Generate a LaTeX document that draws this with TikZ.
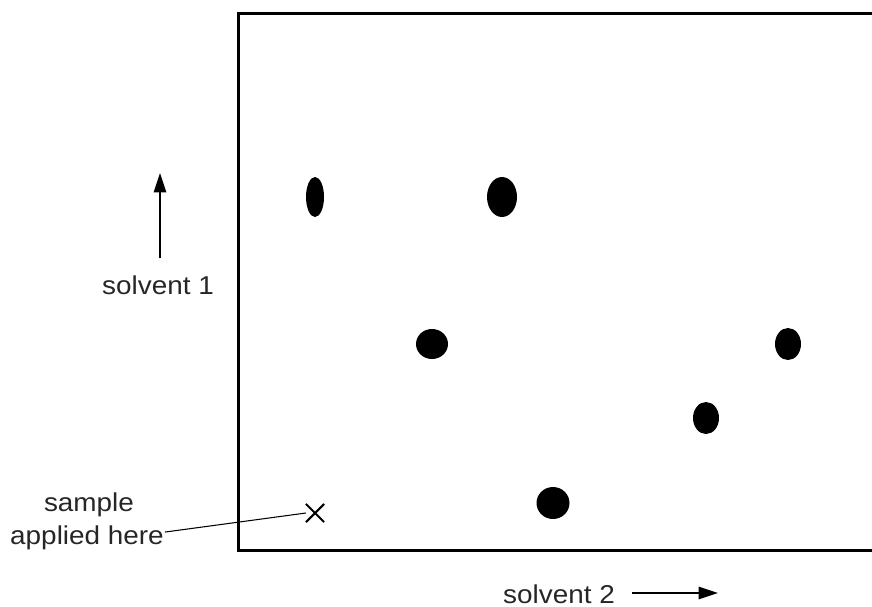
\documentclass[tikz,border=0pt]{standalone}
\usepackage{fontspec}
\setmainfont{Liberation Sans}[FakeStretch=1.08]
\usetikzlibrary{positioning,arrows.meta,shapes.geometric,shapes.misc}
\tikzset{
  lbl/.style={font=\fontsize{14.7}{19}\selectfont,inner sep=0.5pt,
    align=center,text=black!85},
  spot/.style={ellipse,fill=black,inner sep=0pt},
  frame/.style={line width=1.7pt,color=black},
  arr/.style={-{Triangle[length=11pt,width=7pt]},line width=1.1pt},
  leader/.style={line width=0.6pt},
  xmark/.style={cross out,draw,line width=1.2pt,inner sep=0pt,
    minimum size=0.32cm},
}

\begin{document}
\begin{tikzpicture}[x=0.02cm,y=-0.02cm]
\useasboundingbox (0,0) rectangle (872,606);

% =====================================================================
%  PLATE — open on the right
% =====================================================================
\draw[frame] (872,13.5) -- (238.5,13.5) -- (238.5,550.5) -- (872,550.5);

% --- spots ---
\node[spot,minimum width=0.36cm,minimum height=0.80cm] (s1) at (315,197) {};
\node[spot,minimum width=0.60cm,minimum height=0.80cm] (s2) at (502,197) {};
\node[spot,minimum width=0.64cm,minimum height=0.60cm] (s3) at (432,344) {};
\node[spot,minimum width=0.52cm,minimum height=0.64cm] (s4) at (788,344) {};
\node[spot,minimum width=0.52cm,minimum height=0.64cm] (s5) at (706,418) {};
\node[spot,minimum width=0.66cm,minimum height=0.64cm] (s6) at (553,503) {};

% --- origin mark ---
\node[xmark] (orig) at (315,513) {};

% =====================================================================
%  LABELS
% =====================================================================
\node[lbl,anchor=base] (solv1) at (158,294) {solvent 1};
\node[lbl,anchor=base] (samp)  at (89,511)  {sample};
\node[lbl,anchor=base] (appl)  at (87,544)  {applied here};
\node[lbl,anchor=base] (solv2) at (559,603) {solvent 2};

% --- direction arrows ---
\coordinate (up0) at (160,258);
\coordinate (up1) at (160,173);
\draw[arr] (up0) -- (up1);

\coordinate (rt0) at (632,593);
\coordinate (rt1) at (718,593);
\draw[arr] (rt0) -- (rt1);

% sample label -> origin
\draw[leader] ([yshift=3pt]appl.east) -- (orig.west);

\end{tikzpicture}
\end{document}
